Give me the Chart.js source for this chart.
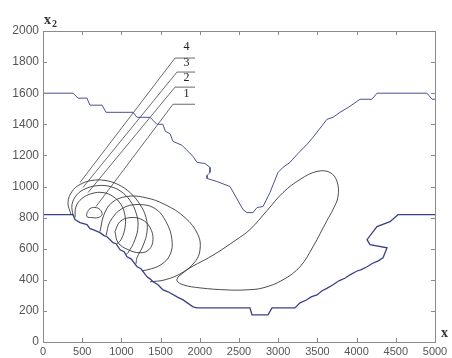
<!DOCTYPE html>
<html>
<head>
<meta charset="utf-8">
<script src="https://cdn.jsdelivr.net/npm/chart.js@4.4.0/dist/chart.umd.min.js"></script>
<style>
  body { margin: 0; background: #fff; }
  canvas { display: block; }
</style>
</head>
<body>
<canvas id="myChart1" width="452" height="358"></canvas>
<script>
// axis ticks
const xTicks = [0, 500, 1000, 1500, 2000, 2500, 3000, 3500, 4000, 4500, 5000];
const yTicks = [0, 200, 400, 600, 800, 1000, 1200, 1400, 1600, 1800, 2000];

// upper boundary (blue)
const upperX = [0, 383, 446, 561, 599, 753, 804, 1148, 1199, 1365, 1454, 1530, 1560, 1620, 1658, 1773, 1824, 1913, 1964, 2066, 2130, 2130, 2092, 2092, 2219, 2385, 2551, 2602, 2679, 2730, 2806, 2895, 2997, 3061, 3151, 3240, 3367, 3444, 3622, 3699, 3788, 3916, 4043, 4196, 4260, 4898, 4962, 5000];
const upperY = [1600, 1600, 1568, 1568, 1523, 1523, 1477, 1477, 1445, 1445, 1400, 1400, 1355, 1340, 1290, 1265, 1239, 1194, 1155, 1148, 1123, 1090, 1071, 1052, 1032, 1000, 852, 832, 832, 865, 871, 961, 1090, 1123, 1155, 1206, 1271, 1316, 1432, 1445, 1477, 1516, 1561, 1561, 1600, 1600, 1561, 1561];

// lower boundary (blue)
const lowerX = [0, 383, 408, 472, 561, 600, 638, 727, 778, 817, 893, 932, 983, 1034, 1072, 1123, 1200, 1250, 1327, 1365, 1404, 1467, 1531, 1595, 1710, 1786, 1914, 1965, 2640, 2666, 2870, 2921, 3214, 3278, 3360, 3420, 3495, 3560, 3620, 3699, 3780, 3850, 3916, 4000, 4060, 4133, 4200, 4270, 4337, 4388, 4171, 4133, 4260, 4426, 4528, 5000];
const lowerY = [819, 819, 787, 768, 755, 729, 722, 703, 684, 677, 639, 632, 593, 581, 548, 535, 484, 471, 419, 406, 387, 368, 335, 323, 290, 271, 226, 219, 219, 174, 174, 219, 219, 252, 270, 290, 303, 330, 345, 368, 395, 410, 432, 455, 465, 484, 505, 520, 542, 606, 626, 658, 742, 774, 819, 819];

// contours
const loop1X = [561, 600, 663, 727, 753, 702, 625, 561, 561];
const loop1Y = [832, 858, 865, 852, 819, 800, 800, 806, 832];

const arc2X = [408, 421, 497, 625, 765, 893, 995, 1046, 1046, 995, 931];
const arc2Y = [800, 871, 923, 955, 961, 936, 884, 813, 736, 658, 626];

const arc3X = [383, 370, 434, 548, 702, 855, 995, 1110, 1186, 1212, 1173, 1084, 1046];
const arc3Y = [813, 884, 948, 987, 1006, 1000, 968, 910, 832, 748, 658, 574, 561];

const arc4X = [357, 319, 370, 472, 625, 791, 957, 1110, 1237, 1314, 1327, 1276, 1199, 1186];
const arc4Y = [819, 897, 968, 1013, 1039, 1039, 1013, 961, 884, 800, 710, 619, 542, 503];

const ell1X = [918, 982, 1110, 1263, 1365, 1403, 1352, 1237, 1084, 957, 918];
const ell1Y = [710, 774, 800, 787, 736, 658, 594, 574, 594, 639, 710];

const ell2X = [804, 855, 1008, 1212, 1429, 1569, 1645, 1620, 1505, 1339, 1263];
const ell2Y = [684, 774, 858, 884, 858, 774, 658, 561, 497, 465, 458];

const ell3X = [727, 778, 880, 1071, 1301, 1556, 1811, 1977, 2003, 1939, 1773, 1556, 1365];
const ell3Y = [710, 819, 897, 936, 929, 884, 800, 690, 594, 516, 445, 400, 387];

const bananaX = [1722, 1875, 2066, 2219, 2449, 2640, 2857, 3061, 3278, 3495, 3661, 3750, 3763, 3699, 3622, 3444, 3278, 3061, 2806, 2577, 2347, 2003, 1786, 1709, 1722];
const bananaY = [419, 477, 529, 574, 652, 723, 845, 961, 1045, 1097, 1090, 1032, 936, 852, 781, 613, 484, 400, 348, 335, 335, 348, 368, 394, 419];

// leader lines to the curve numbers
const labels = ['4', '3', '2', '1'];
const leadX = [[1939, 1684, 472], [1939, 1709, 510], [1939, 1684, 574], [1939, 1658, 676]];
const leadY = [[1826, 1826, 1026], [1736, 1736, 994], [1639, 1639, 961], [1529, 1529, 871]];
const labelX = [1830, 1830, 1830, 1830];
const labelY = [1897, 1794, 1697, 1594];

function pts(xs, ys) {
    return xs.map((x, i) => ({ x: x, y: ys[i] }));
}

function curve(xs, ys, color, width, tension) {
    return {
        data: pts(xs, ys),
        showLine: true,
        borderColor: color,
        borderWidth: width,
        pointRadius: 0,
        tension: tension,
        fill: false
    };
}

const datasets = [
    curve(upperX, upperY, '#4a5096', 1, 0),
    curve(lowerX, lowerY, '#3a4088', 1.3, 0),
    curve(loop1X, loop1Y, '#3a3a3a', 0.9, 0.4),
    curve(arc2X, arc2Y, '#3a3a3a', 0.9, 0.4),
    curve(arc3X, arc3Y, '#3a3a3a', 0.9, 0.4),
    curve(arc4X, arc4Y, '#3a3a3a', 0.9, 0.4),
    curve(ell1X, ell1Y, '#3a3a3a', 0.9, 0.4),
    curve(ell2X, ell2Y, '#3a3a3a', 0.9, 0.4),
    curve(ell3X, ell3Y, '#3a3a3a', 0.9, 0.4),
    curve(bananaX, bananaY, '#3a3a3a', 0.9, 0.4)
];
leadX.forEach((xs, i) => datasets.push(curve(xs, leadY[i], '#444', 0.8, 0)));

// frame, inward ticks, texts
const framePlugin = {
    id: 'frame',
    afterDraw(chart) {
        const c = chart.ctx;
        const a = chart.chartArea;
        const xs = chart.scales.x, ys = chart.scales.y;
        c.save();
        c.strokeStyle = '#8a8a8a';
        c.lineWidth = 1;
        c.strokeRect(a.left + 0.5, a.top + 0.5, a.right - a.left, a.bottom - a.top);
        c.beginPath();
        xTicks.forEach(v => {
            const p = Math.round(xs.getPixelForValue(v)) + 0.5;
            c.moveTo(p, a.bottom); c.lineTo(p, a.bottom - 4);
            c.moveTo(p, a.top); c.lineTo(p, a.top + 4);
        });
        yTicks.forEach(v => {
            const p = Math.round(ys.getPixelForValue(v)) + 0.5;
            c.moveTo(a.left, p); c.lineTo(a.left + 4, p);
            c.moveTo(a.right, p); c.lineTo(a.right - 4, p);
        });
        c.stroke();

        c.fillStyle = '#222';
        c.textAlign = 'center';
        c.textBaseline = 'middle';
        c.font = '12px "Liberation Serif"';
        labels.forEach((t, i) => {
            c.fillText(t, xs.getPixelForValue(labelX[i]), ys.getPixelForValue(labelY[i]));
        });

        // axis names
        c.textAlign = 'left';
        c.textBaseline = 'alphabetic';
        c.fillStyle = '#333';
        c.font = 'bold 14px "Liberation Serif"';
        c.fillText('x', 44, 24);
        c.font = 'bold 10px "Liberation Serif"';
        c.fillText('2', 52, 27);
        c.font = 'bold 14px "Liberation Serif"';
        c.fillText('x', 441, 337);
        c.restore();
    }
};

const ctx = document.getElementById('myChart1').getContext('2d');
const myChart1 = new Chart(ctx, {
    type: 'scatter',
    data: { datasets: datasets },
    options: {
        responsive: false,
        animation: false,
        layout: { padding: { left: 0, top: 31, right: 17, bottom: 0 } },
        plugins: { legend: { display: false }, tooltip: { enabled: false } },
        scales: {
            x: {
                type: 'linear', min: 0, max: 5000,
                grid: { display: false, drawTicks: false },
                border: { display: false },
                afterFit: s => { s.height = 16; },
                afterBuildTicks: s => { s.ticks = xTicks.map(v => ({ value: v })); },
                ticks: { padding: 3, color: '#555', font: { family: '"Liberation Sans"', size: 11 }, maxRotation: 0, autoSkip: false, callback: v => String(v) }
            },
            y: {
                type: 'linear', min: 0, max: 2000,
                grid: { display: false, drawTicks: false },
                border: { display: false },
                afterFit: s => { s.width = 43; },
                afterBuildTicks: s => { s.ticks = yTicks.map(v => ({ value: v })); },
                ticks: { padding: 4, color: '#555', font: { family: '"Liberation Sans"', size: 12 }, autoSkip: false, callback: v => String(v) }
            }
        }
    },
    plugins: [framePlugin]
});
</script>
</body>
</html>
